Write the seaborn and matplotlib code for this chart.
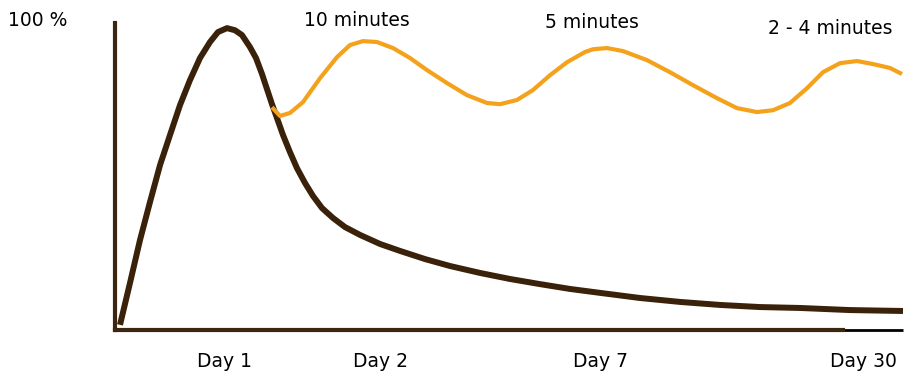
import pandas as pd
import matplotlib
matplotlib.use('Agg')
import matplotlib.pyplot as plt
import seaborn as sns

# timeline position (pixels from the origin of the sketch) and retention in %
forget_x = [5, 15, 25, 35, 45, 55, 65, 75, 85, 95, 103, 112, 120, 127, 135, 141,
            147, 153, 157, 162, 168, 175, 182, 190, 198, 207, 218, 230, 245, 265,
            285, 310, 335, 365, 395, 425, 455, 485, 525, 565, 605, 645, 685, 735, 788]
forget_y = [1.7, 15.6, 29.8, 42.4, 54.6, 64.6, 74.5, 82.8, 90.1, 95.4, 98.7, 100.0,
            99.3, 97.7, 93.7, 90.1, 84.8, 78.8, 74.8, 70.2, 64.6, 58.9, 53.6, 48.7,
            44.4, 40.4, 37.1, 34.1, 31.5, 28.5, 26.2, 23.5, 21.2, 18.9, 16.9, 15.2,
            13.6, 12.3, 10.6, 9.3, 8.3, 7.6, 7.3, 6.6, 6.3]

review_x = [157, 165, 175, 188, 205, 222, 235, 248, 262, 278, 295, 312, 332, 352,
            372, 385, 402, 418, 435, 452, 470, 478, 492, 508, 532, 555, 578, 602,
            622, 642, 658, 675, 692, 708, 725, 742, 758, 775, 787]
review_y = [73.8, 70.9, 71.9, 75.5, 83.4, 90.4, 94.4, 95.7, 95.4, 93.4, 90.1, 86.1,
            81.8, 77.8, 75.2, 74.8, 76.2, 79.5, 84.4, 88.7, 92.1, 93.0, 93.4, 92.4,
            89.4, 85.4, 81.1, 76.8, 73.5, 72.2, 72.8, 75.2, 80.1, 85.4, 88.4, 89.1,
            88.1, 86.8, 84.8]

day_pos = [110, 266, 486, 748]
day_labels = ['Day 1', 'Day 2', 'Day 7', 'Day 30']

review_labels = ['10 minutes', '5 minutes', '2 - 4 minutes']
review_label_x = [357, 592, 830]   # pixel centres in the figure
review_label_y = [20, 22, 29]

sns.set_style('white')
plt.rcParams['font.family'] = ['DejaVu Sans']
plt.rcParams['text.color'] = 'black'
plt.rcParams['xtick.color'] = 'black'

brown = '#3a2109'
orange = '#f4a21c'

df_forget = pd.DataFrame({'x': forget_x, 'y': forget_y})
df_review = pd.DataFrame({'x': review_x, 'y': review_y})

W, H = 912, 380
fig = plt.figure(figsize=(W / 100, H / 100), dpi=100)
ax = fig.add_axes([115 / W, 50 / H, 790 / W, 307 / H])

sns.lineplot(data=df_forget, x='x', y='y', ax=ax, color=brown, lw=4.3,
             solid_capstyle='butt', solid_joinstyle='round', sort=False)
sns.lineplot(data=df_review, x='x', y='y', ax=ax, color=orange, lw=3,
             solid_capstyle='butt', solid_joinstyle='round', sort=False)

ax.set_xlim(0, 790)
ax.set_ylim(0, 101.7)
ax.set_xlabel('')
ax.set_ylabel('')
ax.set_yticks([])
ax.set_xticks(day_pos)
ax.set_xticklabels(day_labels, fontsize=13.5, color='black')
ax.tick_params(axis='x', length=0, pad=16)

for side in ['top', 'right']:
    ax.spines[side].set_visible(False)
ax.spines['left'].set_color('#3d2610')
ax.spines['left'].set_linewidth(3)
ax.spines['bottom'].set_color('#3d2610')
ax.spines['bottom'].set_linewidth(3)
ax.spines['bottom'].set_bounds(0, 728)
ax.hlines(0, 728, 788, color='black', lw=2, clip_on=False)

fig.text(8 / W, 1 - 21 / H, '100 %', fontsize=13.5, va='center', ha='left')
for lab, lx, ly in zip(review_labels, review_label_x, review_label_y):
    fig.text(lx / W, 1 - ly / H, lab, fontsize=13.5, va='center', ha='center')

fig.savefig('out.png', dpi=100, facecolor='white')
